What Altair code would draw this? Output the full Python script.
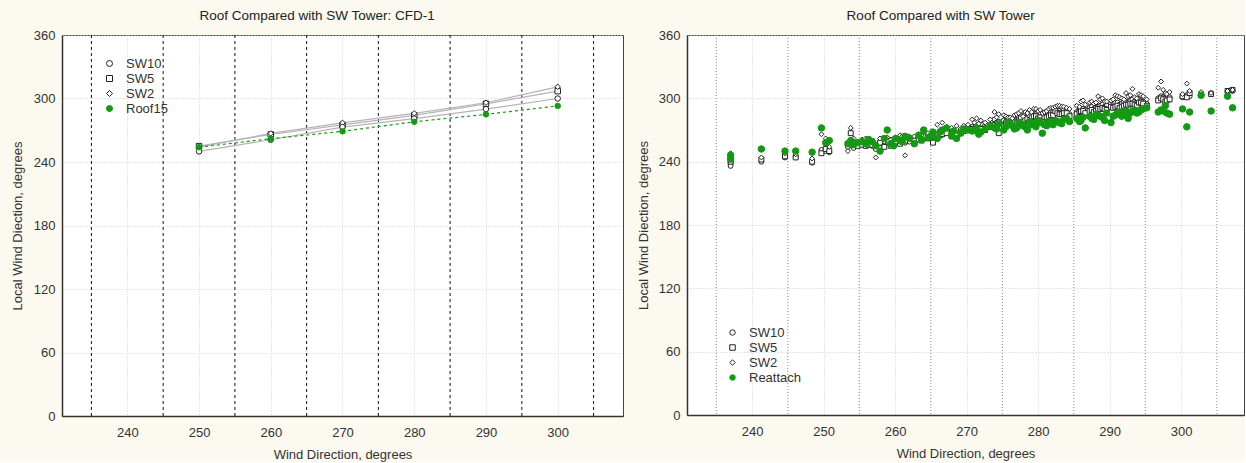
import altair as alt
import pandas as pd

GREEN = "#139a13"
BG = "#fcf9f0"
FONT = "Liberation Sans"

# ---------------- Left panel (CFD-1) ----------------
WD_L = [250, 260, 270, 280, 290, 300]
SW10_L = [250, 261, 273, 281, 290, 300]
SW5_L = [255, 266, 275, 284, 295, 307]
SW2_L = [254, 267, 277, 286, 296, 311]
ROOF15_L = [254, 262, 269, 278, 285, 293]
SERIES_L = ["SW10", "SW5", "SW2", "Roof15"]

# ---------------- Right panel (observations) ----------------
WD_R = [237.0, 237.0, 241.3, 244.6, 246.1, 248.4, 249.7, 250.3, 250.8, 253.4,
        253.8, 254.2, 254.8, 255.4, 255.9, 256.3, 256.8, 257.3, 257.9, 258.5,
        258.9, 259.4, 259.8, 260.1, 260.7, 261.0, 261.4, 262.0, 262.7, 263.3,
        263.7, 264.0, 264.6, 265.0, 265.3, 265.9, 266.3, 266.6, 267.2, 267.9,
        268.2, 268.6, 269.2, 269.6, 270.2, 270.8, 271.1, 271.4, 271.7, 272.0,
        272.6, 273.3, 273.9, 274.2, 274.5, 275.2, 275.5, 275.8, 276.1, 276.4,
        276.7, 277.0, 277.3, 277.6, 277.9, 278.2, 278.5, 278.8, 279.1, 279.4,
        279.7, 280.0, 280.3, 280.6, 280.9, 281.2, 281.5, 281.8, 282.1, 282.4,
        282.7, 283.0, 283.3, 283.6, 284.0, 284.4, 285.4, 285.8, 286.0, 286.3,
        286.6, 287.2, 287.5, 287.8, 288.1, 288.4, 288.7, 289.0, 289.3, 289.6,
        290.2, 290.5, 290.8, 291.1, 291.4, 291.7, 292.0, 292.3, 292.6, 292.9,
        293.2, 293.5, 293.8, 294.1, 294.4, 294.7, 295.2, 296.8, 297.2, 297.5,
        297.8, 298.0, 298.4, 300.2, 300.8, 301.2, 302.8, 304.2, 306.5, 307.2]
SW10_R = [238, 236, 240, 244, 245, 239, 251, 250, 249, 254,
          256, 253, 256, 257, 257, 258, 255, 252, 253, 256,
          258, 257, 259, 260, 262, 261, 258, 259, 261, 263,
          262, 262, 264, 264, 266, 266, 267, 268, 270, 268,
          266, 267, 270, 271, 271, 273, 272, 274, 273, 276,
          272, 275, 280, 277, 278, 279, 278, 281, 279, 278,
          281, 280, 282, 283, 281, 285, 283, 282, 284, 286,
          285, 284, 286, 283, 284, 285, 286, 287, 287, 286,
          288, 288, 287, 289, 288, 285, 287, 289, 290, 290,
          289, 291, 292, 290, 291, 292, 293, 294, 292, 293,
          295, 294, 296, 296, 294, 295, 297, 297, 296, 298,
          299, 297, 296, 299, 298, 297, 295, 300, 302, 301,
          299, 300, 301, 301, 303, 302, 304, 305, 306, 307]
SW5_R = [240, 242, 242, 245, 244, 240, 248, 252, 250, 257,
         267, 258, 255, 256, 255, 256, 256, 256, 258, 254,
         260, 255, 258, 259, 257, 259, 260, 262, 260, 261,
         260, 264, 262, 263, 258, 264, 265, 266, 267, 264,
         264, 265, 268, 269, 270, 271, 270, 272, 271, 271,
         270, 273, 275, 274, 267, 273, 276, 276, 277, 275,
         278, 277, 279, 281, 278, 280, 281, 284, 282, 283,
         283, 281, 282, 279, 282, 282, 283, 284, 284, 288,
         286, 285, 285, 286, 286, 283, 285, 287, 288, 288,
         286, 288, 289, 287, 288, 290, 290, 291, 290, 289,
         292, 291, 292, 293, 291, 292, 293, 294, 294, 295,
         295, 294, 293, 296, 296, 295, 293, 298, 300, 299,
         297, 298, 299, 302, 301, 305, 303, 304, 307, 308]
SW2_R = [248, 244, 244, 248, 247, 243, 266, 262, 254, 250,
         272, 262, 259, 261, 262, 260, 260, 244, 262, 259,
         263, 261, 262, 263, 265, 264, 246, 264, 264, 266,
         265, 268, 267, 266, 268, 275, 270, 277, 273, 272,
         270, 274, 271, 274, 275, 280, 277, 281, 276, 279,
         277, 280, 287, 282, 285, 284, 283, 282, 282, 281,
         284, 285, 286, 288, 283, 287, 286, 289, 287, 290,
         290, 288, 289, 286, 287, 288, 290, 291, 291, 292,
         293, 293, 292, 292, 291, 290, 293, 292, 297, 298,
         294, 296, 297, 295, 296, 302, 299, 300, 297, 297,
         298, 299, 303, 302, 301, 300, 299, 305, 302, 303,
         309, 301, 300, 304, 303, 302, 299, 310, 316, 308,
         305, 304, 306, 304, 314, 307, 306, 305, 307, 308]
REATTACH_R = [246, 243, 252, 250, 250, 249, 272, 258, 260, 257,
              260, 256, 258, 259, 257, 261, 259, 255, 250, 262,
              270, 257, 255, 262, 260, 259, 264, 262, 257, 265,
              261, 270, 263, 264, 268, 262, 268, 270, 272, 265,
              269, 262, 267, 271, 270, 269, 270, 272, 266, 268,
              271, 274, 272, 271, 276, 270, 273, 277, 276, 274,
              271, 272, 277, 275, 274, 273, 270, 278, 275, 276,
              273, 279, 277, 267, 275, 274, 278, 276, 275, 279,
              278, 277, 276, 280, 281, 278, 281, 278, 279, 282,
              272, 283, 281, 280, 285, 284, 283, 282, 279, 286,
              277, 283, 284, 286, 287, 283, 285, 288, 281, 286,
              288, 289, 286, 287, 289, 290, 291, 287, 289, 288,
              293, 286, 285, 290, 273, 287, 303, 288, 302, 291]
SERIES_R = ["SW10", "SW5", "SW2", "Reattach"]

DIVIDERS = [235, 245, 255, 265, 275, 285, 295, 305]
X_TICKS = [240, 250, 260, 270, 280, 290, 300]
Y_TICKS = [0, 60, 120, 180, 240, 300, 360]

# ---------------- tables ----------------
left_rows = []
for name, vals in zip(SERIES_L, [SW10_L, SW5_L, SW2_L, ROOF15_L]):
    for w, v in zip(WD_L, vals):
        left_rows.append({"series": name, "wd": w, "val": v})
left_df = pd.DataFrame(left_rows)

right_rows = []
for name, vals in zip(SERIES_R, [SW10_R, SW5_R, SW2_R, REATTACH_R]):
    for w, v in zip(WD_R, vals):
        right_rows.append({"series": name, "wd": w, "val": v})
right_df = pd.DataFrame(right_rows)

div_df = pd.DataFrame({"wd": DIVIDERS})


def x_enc(domain):
    return alt.X("wd:Q", scale=alt.Scale(domain=domain, nice=False, zero=False),
                 axis=alt.Axis(values=X_TICKS, title="Wind Direction, degrees",
                               labelPadding=10, titlePadding=9))


def y_enc(title_pad):
    return alt.Y("val:Q", scale=alt.Scale(domain=[0, 360], nice=False),
                 axis=alt.Axis(values=Y_TICKS, title="Local Wind Diection, degrees",
                               labelPadding=7, titlePadding=title_pad))


# ---------------- left chart ----------------
XL = x_enc([230.9, 309.1])
YL = y_enc(9)

rules_l = alt.Chart(div_df).mark_rule(color="#111", strokeDash=[3, 3], strokeWidth=1).encode(x=XL)

lines_sw = alt.Chart(left_df).transform_filter(alt.datum.series != "Roof15").mark_line(
    color="#b4b4b4", strokeWidth=1.2).encode(x=XL, y=YL, detail="series:N")
line_roof = alt.Chart(left_df).transform_filter(alt.datum.series == "Roof15").mark_line(
    color=GREEN, strokeWidth=1.2, strokeDash=[3, 3]).encode(x=XL, y=YL)

leg_l = alt.Legend(title=None, orient="none", legendX=37, legendY=18, symbolSize=36,
                   labelFontSize=13, rowPadding=1, labelOffset=10, symbolStrokeWidth=1,
                   padding=4)
pts_l = alt.Chart(left_df).mark_point(size=30, strokeWidth=1, opacity=1).encode(
    x=XL, y=YL,
    shape=alt.Shape("series:N", scale=alt.Scale(domain=SERIES_L,
                    range=["circle", "square", "diamond", "circle"]), legend=leg_l),
    stroke=alt.Stroke("series:N", scale=alt.Scale(domain=SERIES_L,
                      range=["#222", "#222", "#222", GREEN]), legend=leg_l),
    fill=alt.Fill("series:N", scale=alt.Scale(domain=SERIES_L,
                  range=["white", "white", "white", GREEN]), legend=leg_l),
    order=alt.Order("series:N", sort="descending"),
)

left = alt.layer(rules_l, lines_sw, line_roof, pts_l).properties(
    width=561, height=381, title="Roof Compared with SW Tower: CFD-1")

# ---------------- right chart ----------------
XR = x_enc([230.9, 308.8])
YR = y_enc(8)

rules_r = alt.Chart(div_df).mark_rule(color="#888", strokeDash=[1, 2], strokeWidth=1).encode(x=XR)

leg_r = alt.Legend(title=None, orient="none", legendX=35, legendY=287, symbolSize=30,
                   labelFontSize=13, rowPadding=1, labelOffset=10, symbolStrokeWidth=1,
                   padding=4)
shape_r = alt.Shape("series:N", scale=alt.Scale(domain=SERIES_R,
                    range=["circle", "square", "diamond", "circle"]), legend=leg_r)
stroke_r = alt.Stroke("series:N", scale=alt.Scale(domain=SERIES_R,
                      range=["#222", "#222", "#222", GREEN]), legend=leg_r)
fill_r = alt.Fill("series:N", scale=alt.Scale(domain=SERIES_R,
                  range=["white", "white", "white", GREEN]), legend=leg_r)

pts_sw = alt.Chart(right_df).transform_filter(alt.datum.series != "Reattach").mark_point(
    size=24, strokeWidth=1, opacity=1).encode(x=XR, y=YR, shape=shape_r, stroke=stroke_r, fill=fill_r)
pts_re = alt.Chart(right_df).transform_filter(alt.datum.series == "Reattach").mark_point(
    size=42, strokeWidth=1, opacity=1).encode(x=XR, y=YR, shape=shape_r, stroke=stroke_r, fill=fill_r)

right = alt.layer(rules_r, pts_sw, pts_re).properties(
    width=557, height=380, title="Roof Compared with SW Tower")

chart = alt.hconcat(left, right, spacing=12).resolve_scale(
    shape="independent", stroke="independent", fill="independent"
).resolve_legend(shape="independent", stroke="independent", fill="independent").configure(
    background=BG, padding={"left": 10, "top": 8, "right": 0, "bottom": 0}
).configure_view(fill="white", stroke="#444", strokeWidth=1).configure_axis(
    labelFont=FONT, titleFont=FONT, labelFontSize=13, titleFontSize=13,
    titleFontWeight="normal", labelColor="#333", titleColor="#333",
    domainColor="#333", domainWidth=1.5, ticks=False,
    gridColor="#cfcfcf", gridDash=[1, 2], gridWidth=1,
).configure_title(
    font=FONT, fontSize=13.5, fontWeight="normal", color="#222", anchor="middle",
    frame="bounds", offset=7,
).configure_legend(labelFont=FONT, labelColor="#333")

chart.save("out.html", embed_options={"renderer": "svg", "actions": False})
